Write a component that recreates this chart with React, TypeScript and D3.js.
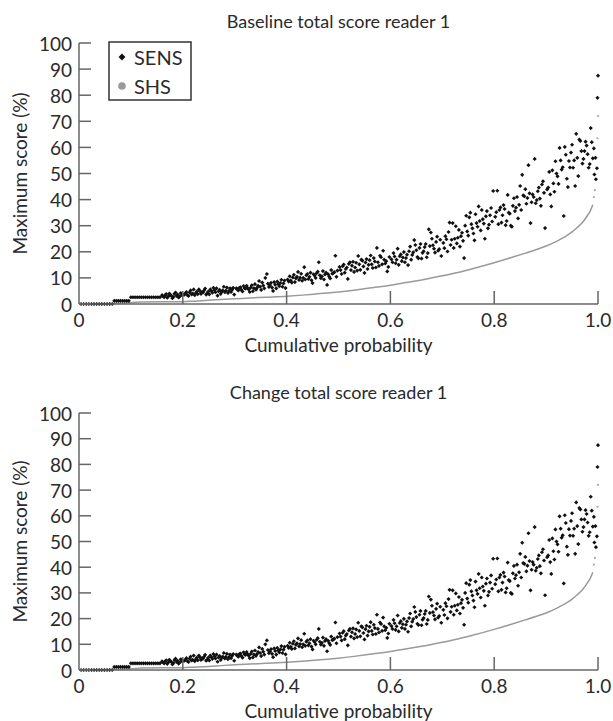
import React from "react";
import * as d3 from "d3";

const titles = ["Baseline total score reader 1", "Change total score reader 1"];
const yTicks = [0, 10, 20, 30, 40, 50, 60, 70, 80, 90, 100];
const xTicks = [0, 0.2, 0.4, 0.6, 0.8, 1.0];
const xTickLabels = ["0", "0.2", "0.4", "0.6", "0.8", "1.0"];
const xLabel = "Cumulative probability";
const yLabel = "Maximum score (%)";
const legendLabels = ["SENS", "SHS"];

// SENS: [cumulative probability, maximum score %]
const sens: [number, number][] = [
  [0.004, 0], [0.009, 0], [0.014, 0], [0.019, 0], [0.024, 0], [0.029, 0], [0.034, 0], [0.039, 0], [0.044, 0], [0.049, 0], [0.054, 0], [0.059, 0], [0.064, 0],
  [0.068, 1.2], [0.072, 1.2], [0.076, 1.2], [0.080, 1.2], [0.084, 1.2], [0.088, 1.2], [0.092, 1.2], [0.096, 1.2],
  [0.100, 2.6], [0.104, 2.6], [0.108, 2.6], [0.112, 2.6], [0.116, 2.6], [0.120, 2.6], [0.124, 2.6], [0.128, 2.6], [0.132, 2.6], [0.136, 2.6], [0.140, 2.6], [0.144, 2.6], [0.148, 2.6], [0.152, 2.6], [0.156, 2.6],
  [0.160, 3.4], [0.164, 2.6], [0.168, 3.8], [0.172, 2.9], [0.176, 3.5], [0.180, 2.2], [0.184, 3.9], [0.188, 3.1], [0.192, 2.5], [0.196, 4.2], [0.199, 3.3],
  [0.203, 3.6], [0.207, 4.6], [0.211, 3.1], [0.215, 5.2], [0.219, 4.0], [0.223, 3.4], [0.227, 4.8], [0.231, 5.6], [0.235, 3.9], [0.239, 4.4], [0.243, 5.9], [0.247, 4.1], [0.251, 3.7], [0.255, 5.0], [0.259, 6.2], [0.263, 4.5], [0.267, 3.2], [0.271, 5.4], [0.275, 4.7], [0.279, 6.6], [0.283, 5.1], [0.287, 4.2], [0.291, 6.0], [0.295, 5.5], [0.299, 3.6],
  [0.303, 6.0], [0.307, 5.2], [0.311, 6.4], [0.315, 4.8], [0.319, 6.1], [0.323, 7.0], [0.327, 5.6], [0.331, 6.3], [0.335, 4.9], [0.339, 7.6], [0.343, 6.2], [0.347, 8.8], [0.351, 5.4], [0.355, 7.1], [0.359, 10.0], [0.362, 11.5], [0.366, 6.5], [0.370, 8.1], [0.374, 5.0], [0.378, 7.4], [0.382, 8.6], [0.386, 6.8], [0.390, 9.3], [0.394, 7.9], [0.398, 6.1],
  [0.402, 9.4], [0.406, 10.6], [0.410, 8.2], [0.414, 11.2], [0.418, 9.8], [0.422, 12.3], [0.426, 10.1], [0.430, 8.9], [0.434, 14.1], [0.438, 11.0], [0.442, 9.6], [0.446, 12.0], [0.450, 8.0], [0.454, 10.9], [0.458, 11.8], [0.462, 16.0], [0.466, 9.9], [0.470, 12.6], [0.474, 11.3], [0.478, 7.3], [0.482, 10.5], [0.486, 13.0], [0.490, 11.9], [0.494, 18.5], [0.498, 12.8],
  [0.502, 14.2], [0.506, 11.5], [0.510, 15.1], [0.514, 13.4], [0.518, 9.6], [0.522, 16.0], [0.526, 14.7], [0.530, 12.3], [0.534, 15.8], [0.538, 18.4], [0.542, 13.1], [0.546, 16.6], [0.550, 11.9], [0.554, 17.2], [0.558, 15.0], [0.562, 18.6], [0.566, 13.8], [0.570, 16.3], [0.574, 21.5], [0.578, 14.6], [0.582, 17.9], [0.586, 20.4], [0.590, 15.5], [0.594, 12.5], [0.598, 18.0],
  [0.602, 17.1], [0.606, 19.5], [0.610, 15.6], [0.614, 21.2], [0.618, 18.3], [0.622, 16.4], [0.626, 19.9], [0.630, 17.6], [0.634, 14.9], [0.638, 22.0], [0.642, 18.8], [0.646, 24.5], [0.650, 20.6], [0.654, 17.5], [0.658, 23.0], [0.662, 19.6], [0.666, 21.8], [0.670, 17.9], [0.674, 28.6], [0.678, 27.4], [0.682, 22.5], [0.686, 19.7], [0.690, 25.8], [0.694, 21.0], [0.698, 18.4],
  [0.702, 23.4], [0.706, 26.0], [0.710, 20.1], [0.714, 31.2], [0.718, 24.6], [0.722, 21.5], [0.726, 29.8], [0.730, 25.4], [0.734, 22.0], [0.738, 27.3], [0.742, 17.6], [0.746, 33.8], [0.750, 26.2], [0.754, 35.0], [0.758, 29.0], [0.762, 24.4], [0.766, 31.0], [0.770, 37.4], [0.774, 28.2], [0.778, 32.5], [0.782, 25.0], [0.786, 35.6], [0.790, 30.4], [0.794, 36.8], [0.798, 43.3],
  [0.802, 33.4], [0.806, 43.4], [0.810, 36.0], [0.814, 31.2], [0.818, 37.9], [0.822, 30.2], [0.826, 41.8], [0.830, 34.6], [0.834, 29.6], [0.838, 40.5], [0.842, 36.9], [0.846, 32.8], [0.850, 45.2], [0.854, 49.5], [0.858, 41.3], [0.862, 38.4], [0.866, 53.2], [0.870, 31.0], [0.874, 42.0], [0.878, 55.6], [0.882, 39.8], [0.886, 44.6], [0.890, 37.6], [0.894, 47.0], [0.898, 29.1],
  [0.902, 43.9], [0.906, 50.6], [0.910, 37.4], [0.914, 46.2], [0.918, 54.7], [0.922, 48.9], [0.926, 59.8], [0.930, 51.5], [0.934, 33.7], [0.938, 57.2], [0.942, 44.8], [0.946, 52.3], [0.950, 61.0], [0.954, 55.0], [0.958, 65.2], [0.962, 49.0], [0.966, 62.5], [0.970, 53.8], [0.974, 58.6], [0.978, 60.7], [0.982, 52.2], [0.986, 67.4], [0.990, 55.8], [0.993, 49.6], [0.996, 47.8], [0.998, 52.0], [0.999, 79.0], [1.000, 87.5],
  [0.162, 2.9], [0.166, 3.3], [0.170, 2.4], [0.174, 4.0], [0.178, 3.1], [0.182, 2.7], [0.186, 4.4], [0.190, 3.6], [0.194, 2.9], [0.198, 3.9],
  [0.205, 4.1], [0.209, 3.4], [0.213, 4.4], [0.217, 3.7], [0.221, 5.6], [0.225, 4.2], [0.229, 3.8], [0.233, 4.9], [0.237, 4.6], [0.241, 5.2], [0.245, 3.6], [0.249, 4.8], [0.253, 5.6], [0.257, 4.3], [0.261, 5.3], [0.265, 6.0], [0.269, 4.9], [0.273, 3.9], [0.277, 5.2], [0.281, 4.5], [0.285, 6.3], [0.289, 5.0], [0.293, 4.6], [0.297, 6.2],
  [0.305, 5.6], [0.309, 6.2], [0.313, 5.4], [0.317, 6.9], [0.321, 5.9], [0.325, 6.1], [0.329, 4.6], [0.333, 7.2], [0.337, 6.0], [0.341, 5.5], [0.345, 7.0], [0.349, 6.6], [0.353, 8.2], [0.357, 6.0], [0.364, 7.8], [0.368, 7.2], [0.372, 6.3], [0.376, 8.4], [0.380, 6.0], [0.384, 7.6], [0.388, 8.0], [0.392, 6.6], [0.396, 9.0],
  [0.404, 8.6], [0.408, 9.0], [0.412, 10.2], [0.416, 8.4], [0.420, 10.4], [0.424, 9.2], [0.428, 11.6], [0.432, 10.0], [0.436, 9.4], [0.440, 11.5], [0.444, 10.4], [0.448, 9.1], [0.452, 11.4], [0.456, 10.0], [0.460, 12.4], [0.464, 11.0], [0.468, 10.6], [0.472, 9.4], [0.476, 12.0], [0.480, 11.4], [0.484, 9.8], [0.488, 11.6], [0.492, 12.2], [0.496, 10.4],
  [0.504, 13.0], [0.508, 14.5], [0.512, 12.0], [0.516, 14.0], [0.520, 15.4], [0.524, 13.0], [0.528, 16.2], [0.532, 14.0], [0.536, 12.8], [0.540, 15.2], [0.544, 17.0], [0.548, 14.4], [0.552, 15.9], [0.556, 13.4], [0.560, 16.8], [0.564, 15.2], [0.568, 17.6], [0.572, 14.0], [0.576, 16.0], [0.580, 18.5], [0.584, 15.2], [0.588, 17.0], [0.592, 16.4], [0.596, 14.2],
  [0.604, 16.0], [0.608, 18.2], [0.612, 17.0], [0.616, 15.0], [0.620, 19.0], [0.624, 17.8], [0.628, 16.0], [0.632, 18.9], [0.636, 20.2], [0.640, 17.0], [0.644, 19.8], [0.648, 22.6], [0.652, 18.0], [0.656, 21.5], [0.660, 17.4], [0.664, 20.2], [0.668, 23.0], [0.672, 19.5], [0.676, 22.2], [0.680, 25.0], [0.684, 21.2], [0.688, 23.8], [0.692, 20.4], [0.696, 24.6],
  [0.704, 21.4], [0.708, 24.8], [0.712, 27.6], [0.716, 22.6], [0.720, 31.0], [0.724, 25.0], [0.728, 23.2], [0.732, 28.4], [0.736, 26.0], [0.740, 24.2], [0.744, 30.0], [0.748, 27.8], [0.752, 33.2], [0.756, 30.6], [0.760, 27.0], [0.764, 34.4], [0.768, 29.6], [0.772, 31.8], [0.776, 36.0], [0.780, 30.8], [0.784, 33.6], [0.788, 29.0], [0.792, 34.0], [0.796, 31.6],
  [0.804, 35.2], [0.808, 30.6], [0.812, 37.0], [0.816, 34.0], [0.820, 36.4], [0.824, 31.8], [0.828, 35.0], [0.832, 30.0], [0.836, 37.6], [0.840, 35.6], [0.844, 41.0], [0.848, 38.0], [0.852, 36.0], [0.856, 41.6], [0.860, 44.0], [0.864, 40.6], [0.868, 42.4], [0.872, 39.0], [0.876, 41.0], [0.880, 38.6], [0.884, 43.2], [0.888, 40.4], [0.892, 45.8], [0.896, 42.6],
  [0.904, 44.6], [0.908, 42.0], [0.912, 51.2], [0.916, 43.0], [0.920, 50.0], [0.924, 46.0], [0.928, 55.0], [0.932, 52.4], [0.936, 60.2], [0.940, 48.0], [0.944, 54.8], [0.948, 58.0], [0.952, 52.2], [0.956, 45.2], [0.960, 56.0], [0.964, 63.0], [0.968, 58.6], [0.972, 55.6], [0.976, 62.2], [0.980, 57.4], [0.984, 53.6], [0.988, 62.0], [0.992, 59.6], [0.995, 56.0],
];

// SHS: [cumulative probability, maximum score %]
const shs: [number, number][] = [
  [0, 0], [0.065, 0.2], [0.1, 0.5], [0.12, 0.8], [0.2, 0.9], [0.22, 1.1], [0.25, 1.4], [0.28, 1.8], [0.3, 2.0], [0.33, 2.3], [0.36, 2.6],
  [0.4, 3.0], [0.43, 3.4], [0.46, 3.9], [0.5, 4.6], [0.53, 5.3], [0.56, 6.1], [0.6, 7.2], [0.63, 8.2], [0.66, 9.2],
  [0.7, 10.8], [0.73, 12.1], [0.76, 13.6], [0.8, 15.8], [0.83, 17.6], [0.86, 19.5], [0.88, 20.8], [0.9, 22.2],
  [0.92, 24.0], [0.94, 26.2], [0.95, 27.6], [0.96, 29.3], [0.97, 31.2], [0.98, 34.0], [0.985, 35.6], [0.99, 38.0],
  [0.992, 41.0], [0.994, 43.6], [0.997, 52.0], [0.999, 63.5], [1.0, 72.0],
];

const panels = [
  { top: 43, bottom: 304, titleY: 21 },
  { top: 413, bottom: 670, titleY: 392 },
];

const FONT = "Lato, 'Open Sans', sans-serif";
const WEIGHT = 400;
const AXIS = "#666";
const TEXT = "#2a2a2a";
const FS = 19;

function Panel({ idx }: { idx: number }) {
  const p = panels[idx];
  const x = d3.scaleLinear().domain([0, 1]).range([79, 598]);
  const y = d3.scaleLinear().domain([0, 100]).range([p.bottom, p.top]);
  const diamond = d3.symbol(d3.symbolDiamond2, 11)()!;
  const lineData = shs.filter((d) => d[0] <= 0.99);
  const dotData = shs.filter((d) => d[0] > 0.99);
  const line = d3
    .line<[number, number]>()
    .x((d) => x(d[0]))
    .y((d) => y(d[1]))
    .curve(d3.curveMonotoneX);
  const cx = (x(0) + x(1)) / 2;
  const txt = { fontSize: FS, fill: TEXT, fontFamily: FONT, fontWeight: WEIGHT } as const;
  return (
    <g>
      <text x={cx} y={p.titleY} textAnchor="middle" dominantBaseline="central" {...txt} fontSize={18}>
        {titles[idx]}
      </text>
      {/* SHS */}
      <path d={line(lineData) || ""} fill="none" stroke="#9a9a9a" strokeWidth={1.5} />
      {dotData.map((d, i) => (
        <circle key={"s" + i} cx={x(d[0])} cy={y(d[1])} r={1.1} fill="#aaa" />
      ))}
      {/* SENS */}
      {sens.map((d, i) => (
        <path key={"b" + i} d={diamond} transform={`translate(${x(d[0])},${y(d[1])})`} fill="#111" />
      ))}
      {/* axes */}
      <line x1={x(0)} x2={x(0)} y1={y(100)} y2={y(0)} stroke={AXIS} strokeWidth={1.5} />
      <line x1={x(0)} x2={x(1)} y1={y(0)} y2={y(0)} stroke={AXIS} strokeWidth={1.5} />
      {yTicks.map((t) => (
        <g key={"y" + t}>
          <line x1={x(0)} x2={x(0) + 12} y1={y(t)} y2={y(t)} stroke={AXIS} strokeWidth={1.5} />
          <text x={72} y={y(t)} textAnchor="end" dominantBaseline="central" {...txt}>
            {t}
          </text>
        </g>
      ))}
      {xTicks.map((t, i) => (
        <g key={"x" + i}>
          {t > 0 && <line x1={x(t)} x2={x(t)} y1={y(0)} y2={y(0) - 13} stroke={AXIS} strokeWidth={1.5} />}
          <text x={x(t)} y={y(0) + 15} textAnchor="middle" dominantBaseline="central" {...txt}>
            {xTickLabels[i]}
          </text>
        </g>
      ))}
      <text x={cx} y={y(0) + 40} textAnchor="middle" dominantBaseline="central" {...txt}>
        {xLabel}
      </text>
      <text
        transform={`translate(19,${(p.top + p.bottom) / 2}) rotate(-90)`}
        textAnchor="middle"
        dominantBaseline="central"
        {...txt}
      >
        {yLabel}
      </text>
      {idx === 0 && (
        <g>
          <rect x={109} y={42} width={82} height={58} fill="white" stroke="#333" strokeWidth={1.5} />
          <path d={d3.symbol(d3.symbolDiamond2, 30)()!} transform="translate(122,57)" fill="#111" />
          <text x={134} y={57} dominantBaseline="central" {...txt} fontSize={20}>
            {legendLabels[0]}
          </text>
          <circle cx={122} cy={86} r={3.8} fill="#999" />
          <text x={134} y={86} dominantBaseline="central" {...txt} fontSize={20}>
            {legendLabels[1]}
          </text>
        </g>
      )}
    </g>
  );
}

export default function App() {
  return (
    <svg width={613} height={721} style={{ position: "absolute", left: 0, top: 0, background: "white" }}>
      <Panel idx={0} />
      <Panel idx={1} />
    </svg>
  );
}
